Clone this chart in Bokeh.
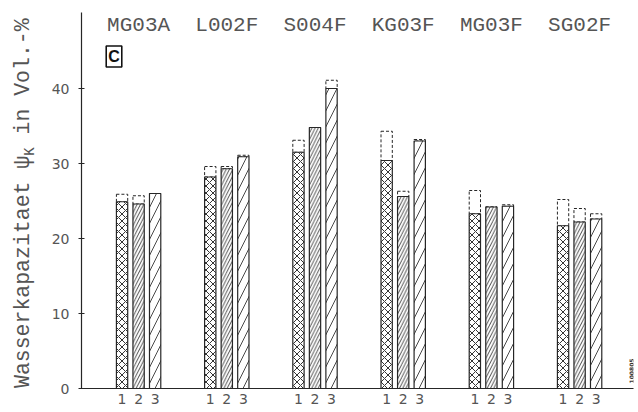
import math
from bokeh.plotting import figure
from bokeh.layouts import row
from bokeh.models import FixedTicker, Label, Range1d
from bokeh.core.properties import value
from bokeh.embed import file_html
from bokeh.resources import INLINE

# ---------------- data ----------------
samples = ["MG03A", "L002F", "S004F", "KG03F", "MG03F", "SG02F"]
bar_names = ["1", "2", "3"]
# solid (hatched) part of each bar
bar1_low = [24.9, 28.2, 31.5, 30.4, 23.3, 21.7]
bar2_low = [24.6, 29.3, 34.8, 25.6, 24.2, 22.2]
bar3_low = [26.0, 30.9, 40.0, 33.0, 24.3, 22.6]
# top of the dashed extension of each bar
bar1_high = [25.9, 29.6, 33.1, 34.3, 26.4, 25.2]
bar2_high = [25.7, 29.6, 34.8, 26.3, 24.2, 24.0]
bar3_high = [26.0, 31.1, 41.1, 33.2, 24.5, 23.3]
y_ticks = [0, 10, 20, 30, 40]
panel_letter = "C"
y_title_a = "Wasserkapazitaet \u03c8"
y_title_sub = "K"
y_title_b = "in Vol.-%"
stamp = "100805"

# ---------------- layout ----------------
W, H = 636, 410
LW = 48                      # width of the strip holding the y title
GROUP_STEP = 16
BAR_STEP = 3
BAR_WIDTH = 2.05
PX_PER_X = 88.36 / GROUP_STEP
PX_PER_Y = 7.5
BL, BR, BT, BB = 32, 3, 12, 22
MW = W - LW
frame_w = MW - BL - BR
frame_h = H - BT - BB
x0 = GROUP_STEP - 57.2 / PX_PER_X
x1 = x0 + frame_w / PX_PER_X
y1 = frame_h / PX_PER_Y

INK = "#262626"
TXT = "#555555"
MONO = "Liberation Mono"

p = figure(width=MW, height=H, output_backend="svg", toolbar_location=None,
           x_range=Range1d(x0, x1), y_range=Range1d(0, y1),
           min_border_left=BL, min_border_right=BR, min_border_top=BT, min_border_bottom=BB,
           background_fill_color="white", border_fill_color="white")
p.outline_line_color = None
p.xgrid.visible = False
p.ygrid.visible = False

centers = [GROUP_STEP * (i + 1) for i in range(len(samples))]
lows = [bar1_low, bar2_low, bar3_low]
highs = [bar1_high, bar2_high, bar3_high]
patterns = [("diagonal_cross", 7, 1.0), ("right_diagonal_line", 6.5, 0.9), ("right_diagonal_line", 16, 0.9)]

tick_pos = []
overrides = {}
for j in range(3):
    xs = [c + (j - 1) * BAR_STEP for c in centers]
    for xv in xs:
        tick_pos.append(xv)
        overrides[xv] = bar_names[j]
    # dashed extension
    p.quad(left=[xv - BAR_WIDTH / 2 for xv in xs], right=[xv + BAR_WIDTH / 2 for xv in xs],
           bottom=lows[j], top=highs[j], fill_color=None, line_color=INK,
           line_dash="3 2", line_width=1)
    pat, sc, wt = patterns[j]
    p.vbar(x=xs, top=lows[j], bottom=0, width=BAR_WIDTH, fill_color="white",
           line_color=INK, line_width=1.2, hatch_pattern=pat, hatch_scale=sc,
           hatch_color="#333333", hatch_weight=wt)

# sample names on top
p.text(x=centers, y=[48.4] * len(centers), text=samples, text_font=value(MONO),
       text_font_size="21px", text_align="center", text_baseline="middle", text_color=TXT)

# axes
ax = p.xaxis[0]
ax.ticker = FixedTicker(ticks=sorted(tick_pos), minor_ticks=[])
ax.major_label_overrides = overrides
ax.major_tick_in = 0
ax.major_tick_out = 0
ax.minor_tick_in = 0
ax.minor_tick_out = 0
ax.major_label_standoff = 5
ax.major_label_text_font = "DejaVu Sans"
ax.major_label_text_font_size = "14px"
ax.major_label_text_color = TXT
ax.axis_line_color = INK
ax.axis_line_width = 1.2

ay = p.yaxis[0]
ay.ticker = FixedTicker(ticks=y_ticks, minor_ticks=[])
ay.major_tick_in = 3
ay.major_tick_out = 3
ay.minor_tick_in = 0
ay.minor_tick_out = 0
ay.major_tick_line_color = INK
ay.major_label_standoff = 9
ay.major_label_text_font = "DejaVu Sans"
ay.major_label_text_font_size = "14px"
ay.major_label_text_color = TXT
ay.axis_line_color = INK
ay.axis_line_width = 1.2

# panel letter in a box
p.add_layout(Label(text=panel_letter, x=x0, y=0, x_offset=32.5, y_offset=332,
                   text_align="center", text_baseline="middle",
                   text_font="Liberation Sans", text_font_style="bold", text_font_size="16px",
                   text_color="#111111", padding=2, border_line_color="#111111",
                   border_line_width=1.6, background_fill_color="white"))

# small stamp
p.add_layout(Label(text=stamp, x=x1, y=0, x_offset=-2, y_offset=5, angle=math.pi / 2,
                   text_align="left", text_baseline="middle", text_font="DejaVu Sans",
                   text_font_style="bold", text_font_size="6px", text_color="#333333"))

# ---------------- y title strip (left) ----------------
t = figure(width=LW, height=H, output_backend="svg", toolbar_location=None,
           x_range=Range1d(0, LW), y_range=Range1d(0, frame_h), x_axis_type=None, y_axis_type=None,
           min_border_left=0, min_border_right=0, min_border_top=BT, min_border_bottom=BB,
           background_fill_color="white", border_fill_color="white")
t.outline_line_color = None
FS = 21.5
SFS = 14
ya = 0.5
yk = ya + len(y_title_a) * FS * 0.6
yb = yk + SFS * 0.6 + FS * 0.6
for txt, xx, yy, fs in [(y_title_a, 22, ya, FS), (y_title_sub, 29, yk, SFS), (y_title_b, 22, yb, FS)]:
    t.add_layout(Label(text=txt, x=xx, y=yy, angle=math.pi / 2, text_align="left",
                       text_baseline="middle", text_font=MONO, text_font_size=f"{fs}px",
                       text_color=TXT))

layout = row(t, p, spacing=0)
open("out.html", "w").write(file_html(layout, INLINE))
